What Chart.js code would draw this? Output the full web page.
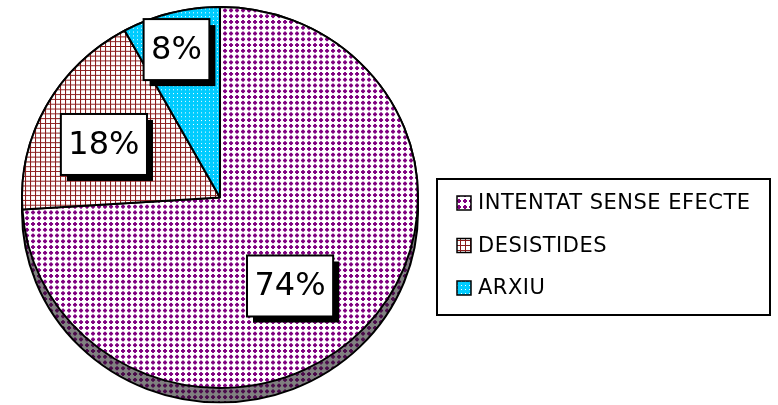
<!DOCTYPE html>
<html>
<head>
<meta charset="utf-8">
<script src="https://cdn.jsdelivr.net/npm/chart.js@4.4.0/dist/chart.umd.min.js"></script>
<style>
  html, body { margin: 0; padding: 0; background: #fff; }
  canvas { display: block; }
</style>
</head>
<body>
<canvas id="chart-pie" width="778" height="405"></canvas>
<script>
const categories = ["INTENTAT SENSE EFECTE", "DESISTIDES", "ARXIU"];
const shares = [74, 18, 8];
const pctLabels = ["74%", "18%", "8%"];

document.addEventListener("DOMContentLoaded", function () {
    const canvas = document.getElementById("chart-pie");
    const ctx = canvas.getContext("2d");

    // small tile patterns like the old excel fills
    function makePattern(size, draw) {
        const c = document.createElement("canvas");
        c.width = size;
        c.height = size;
        draw(c.getContext("2d"));
        return ctx.createPattern(c, "repeat");
    }
    function dots(bg, fg) {
        return makePattern(6, function (g) {
            g.fillStyle = bg;
            g.fillRect(0, 0, 6, 6);
            g.fillStyle = fg;
            g.fillRect(2, 1, 2, 4);
            g.fillRect(1, 2, 4, 2);
        });
    }
    const purple = dots("#ffffff", "#800080");
    const side = dots("#808080", "#4a0a4a");
    const hatch = makePattern(5, function (g) {
        g.fillStyle = "#ffffff";
        g.fillRect(0, 0, 5, 5);
        g.fillStyle = "#8b1c1c";
        g.fillRect(0, 0, 5, 1);
        g.fillRect(0, 0, 1, 5);
    });
    const blue = makePattern(4, function (g) {
        g.fillStyle = "#00ccff";
        g.fillRect(0, 0, 4, 4);
        g.fillStyle = "#ffffff";
        g.fillRect(1, 1, 1, 1);
    });
    const fills = [purple, hatch, blue];

    const squashY = 0.962;   // pie is a bit flatter than a circle
    const depth = 15;

    // squash + 3d side under the pie
    const pie3d = {
        id: "pie3d",
        beforeDatasetsDraw(chart) {
            const arc = chart.getDatasetMeta(0).data[0];
            const c = chart.ctx;
            c.save();
            c.translate(arc.x, arc.y);
            c.scale(1, squashY);
            c.translate(-arc.x, -arc.y);
            const r = arc.outerRadius;
            c.beginPath();
            c.arc(arc.x, arc.y + depth, r, 0, Math.PI);
            c.lineTo(arc.x - r, arc.y);
            c.arc(arc.x, arc.y, r, Math.PI, 0);
            c.closePath();
            c.fillStyle = side;
            c.fill();
            c.lineWidth = 2;
            c.strokeStyle = "#000";
            c.stroke();
        },
        afterDatasetsDraw(chart) {
            chart.ctx.restore();
        }
    };

    // boxed percentage labels with drop shadow
    const placement = [
        { frac: 0.584, nudge: 9.5 },
        { frac: 0.649, nudge: -3.4 },
        { frac: 0.807, nudge: -1.4 }
    ];
    const pctBoxes = {
        id: "pctBoxes",
        afterDatasetsDraw(chart) {
            const c = chart.ctx;
            const arcs = chart.getDatasetMeta(0).data;
            c.save();
            c.font = "32px 'DejaVu Sans'";
            c.textAlign = "center";
            c.textBaseline = "middle";
            arcs.forEach(function (arc, i) {
                const p = placement[i];
                const a = (arc.startAngle + arc.endAngle) / 2 + p.nudge * Math.PI / 180;
                const R = arc.outerRadius * p.frac;
                const x = arc.x + R * Math.cos(a);
                const y = arc.y + R * squashY * Math.sin(a);
                const w = c.measureText(pctLabels[i]).width + 15;
                const h = 61;
                c.fillStyle = "#000";
                c.fillRect(x - w / 2 + 6, y - h / 2 + 6, w, h);
                c.fillStyle = "#fff";
                c.fillRect(x - w / 2, y - h / 2, w, h);
                c.lineWidth = 2;
                c.strokeStyle = "#000";
                c.strokeRect(x - w / 2, y - h / 2, w, h);
                c.fillStyle = "#000";
                c.fillText(pctLabels[i], x, y + 1);
            });
            c.restore();
        }
    };

    // legend in a framed box on the right
    const boxLegend = {
        id: "boxLegend",
        afterDraw(chart) {
            const c = chart.ctx;
            c.save();
            c.lineWidth = 2;
            c.strokeStyle = "#000";
            c.strokeRect(437, 179, 333, 136);
            c.font = "21px 'DejaVu Sans'";
            c.letterSpacing = "0.5px";
            c.textBaseline = "middle";
            chart.data.labels.forEach(function (label, i) {
                const y = 203 + i * 42.5;
                c.fillStyle = chart.data.datasets[0].backgroundColor[i];
                c.fillRect(457, y - 7, 14, 14);
                c.lineWidth = 1.5;
                c.strokeRect(457, y - 7, 14, 14);
                c.fillStyle = "#000";
                c.fillText(label, 478, y + 1);
            });
            c.restore();
        }
    };

    new Chart(ctx, {
        type: "pie",
        data: {
            labels: categories,
            datasets: [{
                data: shares,
                backgroundColor: fills,
                borderColor: "#000",
                borderWidth: 2,
                radius: 198
            }]
        },
        options: {
            responsive: false,
            animation: false,
            layout: { padding: { left: 0, right: 338, top: 0, bottom: 10 } },
            plugins: {
                legend: { display: false },
                tooltip: { enabled: false }
            }
        },
        plugins: [pie3d, pctBoxes, boxLegend]
    });
});
</script>
</body>
</html>
